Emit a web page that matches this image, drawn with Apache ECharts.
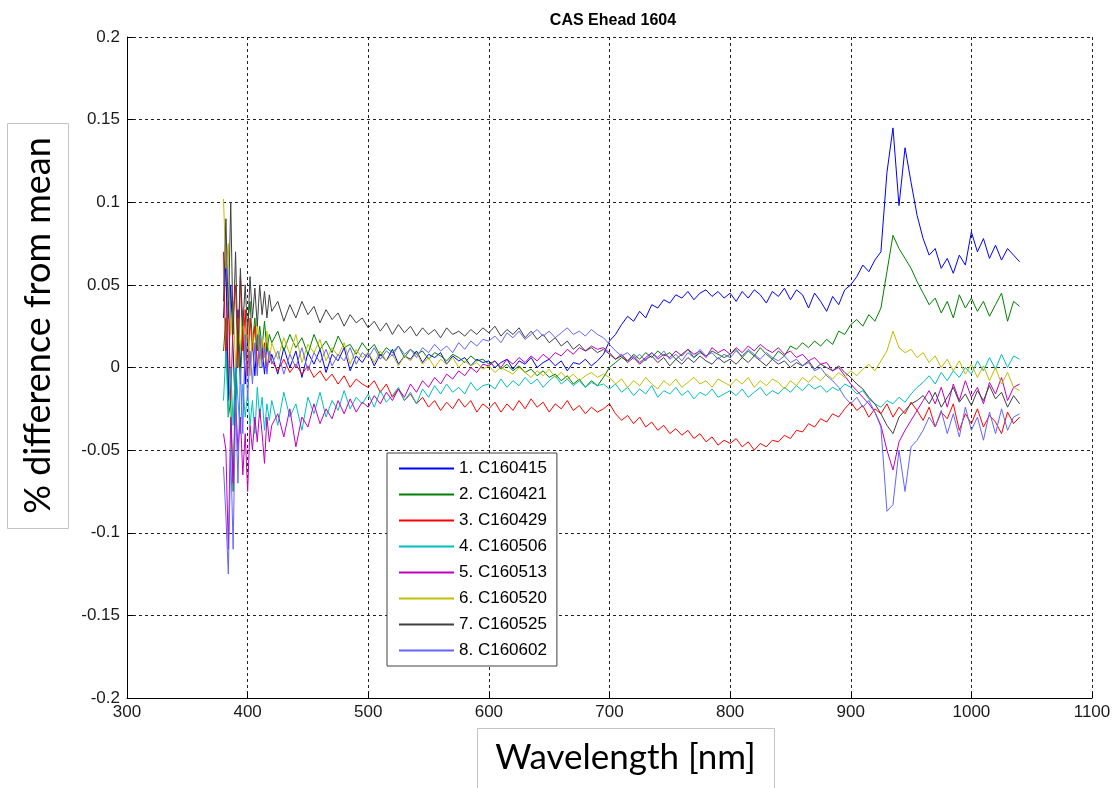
<!DOCTYPE html>
<html>
<head>
<meta charset="utf-8">
<title>CAS Ehead 1604</title>
<script src="https://cdn.jsdelivr.net/npm/echarts@6/dist/echarts.min.js"></script>
<style>
  html, body { margin: 0; padding: 0; background: #fff; }
  #chart { width: 1117px; height: 788px; }
</style>
</head>
<body>
<div id="chart"></div>
<script>
// wavelengths [nm]: 2 nm steps in the noisy blue end, then 5 nm steps
const wavelengths = [
    380, 382, 384, 386, 388, 390, 392, 394, 396, 398, 400, 402, 404, 406, 408, 410, 412, 414, 416, 418,
    420, 425, 430, 435, 440, 445, 450, 455, 460, 465, 470, 475, 480, 485, 490, 495,
    500, 505, 510, 515, 520, 525, 530, 535, 540, 545, 550, 555, 560, 565, 570, 575, 580, 585, 590, 595,
    600, 605, 610, 615, 620, 625, 630, 635, 640, 645, 650, 655, 660, 665, 670, 675, 680, 685, 690, 695,
    700, 705, 710, 715, 720, 725, 730, 735, 740, 745, 750, 755, 760, 765, 770, 775, 780, 785, 790, 795,
    800, 805, 810, 815, 820, 825, 830, 835, 840, 845, 850, 855, 860, 865, 870, 875, 880, 885, 890, 895,
    900, 905, 910, 915, 920, 925, 930, 935, 940, 945, 950, 955, 960, 965, 970, 975, 980, 985, 990, 995,
    1000, 1005, 1010, 1015, 1020, 1025, 1030, 1035, 1040
];

const seriesNames = ['1. C160415', '2. C160421', '3. C160429', '4. C160506', '5. C160513', '6. C160520', '7. C160525', '8. C160602'];
const seriesColors = ['#0000ff', '#008000', '#ff0000', '#00bfbf', '#bf00bf', '#bfbf00', '#404040', '#6464ff'];

const c160415 = [
    0.03, 0.065, -0.02, 0.05, 0.01, -0.03, 0.035, 0.0, 0.025, -0.01, 0.02, 0.0, 0.015, -0.005, 0.02, 0.005, 0.012, -0.004, 0.015, 0.003,
    0.008, -0.004, 0.012, 0.0, 0.01, -0.006, 0.009, 0.002, 0.011, -0.003, 0.008, 0.004, 0.012, -0.002, 0.007, 0.003,
    0.009, 0.001, 0.008, 0.004, 0.011, 0.002, 0.007, 0.005, 0.01, 0.003, 0.008, 0.006, 0.009, 0.002, 0.007, 0.004, 0.006, 0.001, 0.005, 0.003,
    0.004, 0.0, 0.003, 0.005, -0.001, 0.004, 0.002, 0.006, 0.0, 0.003, 0.005, 0.001, 0.004, -0.002, 0.003, 0.002, 0.005, 0.001, 0.004, 0.008,
    0.016, 0.02, 0.026, 0.031, 0.028, 0.034, 0.03, 0.038, 0.036, 0.041, 0.039, 0.044, 0.042, 0.046, 0.041, 0.045, 0.047, 0.043, 0.046, 0.042,
    0.045, 0.04, 0.046, 0.042, 0.047, 0.044, 0.039, 0.046, 0.043, 0.048, 0.041, 0.047, 0.044, 0.036, 0.045, 0.04, 0.034, 0.043, 0.038, 0.047,
    0.05, 0.055, 0.062, 0.058, 0.065, 0.07, 0.118, 0.145, 0.098, 0.133, 0.112, 0.092, 0.078, 0.068, 0.072, 0.06, 0.066, 0.057, 0.068, 0.062,
    0.082, 0.07, 0.078, 0.066, 0.074, 0.065, 0.072, 0.068, 0.064
];
const c160421 = [
    0.01, 0.03, -0.03, -0.02, -0.075, 0.0, 0.02, -0.01, 0.03, 0.005, 0.025, 0.04, 0.015, 0.03, 0.01, 0.025, 0.012, 0.028, 0.01, 0.02,
    0.015, 0.022, 0.01, 0.02, 0.012, 0.018, 0.008, 0.02, 0.011, 0.016, 0.009, 0.019, 0.012, 0.014, 0.008, 0.015,
    0.01, 0.014, 0.007, 0.012, 0.009, 0.013, 0.006, 0.011, 0.008, 0.01, 0.005, 0.009, 0.007, 0.004, 0.008, 0.006, 0.003, 0.007, 0.004, 0.005,
    0.002, 0.004, -0.001, 0.002, -0.002, 0.001, -0.003, -0.001, -0.005, -0.002, -0.006, -0.004, -0.008, -0.005, -0.01, -0.007, -0.012, -0.008, -0.011, -0.006,
    0.0, 0.003, 0.006, 0.004, 0.008, 0.005, 0.009, 0.006, 0.01, 0.007, 0.009, 0.005, 0.008, 0.011, 0.006, 0.009, 0.007, 0.01, 0.008, 0.006,
    0.008, 0.011, 0.006, 0.01, 0.007, 0.012, 0.008, 0.005, 0.01, 0.007, 0.013, 0.011, 0.015, 0.012, 0.016, 0.013, 0.017, 0.014, 0.022, 0.02,
    0.026, 0.029, 0.025, 0.032, 0.028, 0.036, 0.058, 0.08, 0.072, 0.066, 0.06, 0.052, 0.045, 0.038, 0.042, 0.033, 0.04, 0.03, 0.044, 0.036,
    0.042, 0.034, 0.04, 0.031, 0.038, 0.045, 0.028, 0.04, 0.037
];
const c160429 = [
    0.07, 0.0, 0.04, -0.02, 0.03, 0.05, 0.0, 0.055, 0.01, 0.035, -0.005, 0.03, 0.01, 0.025, 0.0, 0.018, 0.005, 0.015, -0.002, 0.01,
    0.004, -0.002, 0.005, -0.003, 0.002, -0.004, 0.001, -0.006, -0.002, -0.008, -0.004, -0.01, -0.005, -0.012, -0.007, -0.01,
    -0.012, -0.008, -0.015, -0.01, -0.018, -0.013, -0.02, -0.016, -0.022, -0.018, -0.024, -0.02, -0.026, -0.021, -0.025, -0.019, -0.024, -0.02, -0.027, -0.022,
    -0.025, -0.021, -0.027, -0.022, -0.026, -0.02, -0.025, -0.019, -0.024, -0.021, -0.027, -0.022, -0.025, -0.02, -0.026, -0.023, -0.028, -0.024, -0.027, -0.025,
    -0.022, -0.028, -0.032, -0.029, -0.034, -0.03, -0.036, -0.033, -0.038, -0.035, -0.04, -0.037, -0.041, -0.038, -0.043, -0.04, -0.045, -0.042, -0.047, -0.044,
    -0.046, -0.043, -0.048, -0.045, -0.05, -0.046, -0.048, -0.044, -0.045, -0.041, -0.043, -0.038, -0.039, -0.034, -0.036, -0.031, -0.033, -0.028, -0.03, -0.025,
    -0.021, -0.026, -0.023, -0.03, -0.025, -0.028, -0.022, -0.03, -0.024, -0.028, -0.021, -0.026, -0.032, -0.024, -0.036, -0.027, -0.031, -0.022, -0.038, -0.028,
    -0.034, -0.025, -0.036, -0.029, -0.033, -0.04, -0.027, -0.034, -0.03
];
const c160506 = [
    -0.02, 0.01, -0.03, 0.0, -0.035, 0.005, -0.02, -0.04, -0.01, -0.03, -0.015, -0.035, -0.02, -0.04, -0.012, -0.03, -0.018, -0.038, -0.022, -0.032,
    -0.02, -0.035, -0.015, -0.03, -0.022, -0.038, -0.018, -0.028, -0.015, -0.03, -0.02, -0.026, -0.014, -0.025, -0.018, -0.022,
    -0.016, -0.024, -0.014, -0.021, -0.017, -0.012, -0.02, -0.015, -0.022, -0.013, -0.018, -0.011, -0.016, -0.01, -0.015, -0.012, -0.016, -0.009, -0.014, -0.011,
    -0.01, -0.013, -0.007, -0.012, -0.008, -0.011, -0.006, -0.01, -0.007, -0.012, -0.008, -0.005, -0.01, -0.007, -0.011, -0.008, -0.012, -0.009, -0.011, -0.01,
    -0.013, -0.01, -0.015, -0.012, -0.017, -0.013, -0.016, -0.011, -0.018, -0.014, -0.016, -0.012, -0.017, -0.014, -0.019, -0.015, -0.017, -0.013, -0.018, -0.016,
    -0.014, -0.017, -0.013, -0.018, -0.015, -0.012, -0.017, -0.014, -0.016, -0.012, -0.015, -0.011, -0.014, -0.01, -0.013, -0.011, -0.015, -0.012, -0.014, -0.01,
    -0.012, -0.016, -0.014, -0.019, -0.022, -0.024, -0.02, -0.022, -0.018, -0.021, -0.016, -0.012, -0.009, -0.005, -0.01, -0.003, -0.008, -0.002, -0.006, 0.0,
    -0.004, 0.004, -0.002, 0.006, -0.001, 0.008, 0.0, 0.007, 0.005
];
const c160513 = [
    -0.04, -0.05, -0.11, -0.03, -0.07, -0.02, -0.05, -0.03, -0.065, -0.04, -0.075, -0.035, -0.05, -0.03, -0.045, -0.025, -0.04, -0.058, -0.03, -0.045,
    -0.035, -0.028, -0.042, -0.025, -0.048, -0.03, -0.036, -0.022, -0.034, -0.025, -0.031, -0.02, -0.028, -0.019, -0.027, -0.021,
    -0.024, -0.017, -0.022, -0.015, -0.02, -0.013, -0.018, -0.01, -0.015, -0.008, -0.012, -0.006, -0.01, -0.004, -0.007, -0.002, -0.005, 0.0, -0.003, 0.002,
    0.001, 0.004, 0.0, 0.005, 0.002, 0.006, 0.003, 0.007, 0.004, 0.008, 0.005, 0.009, 0.007, 0.011, 0.008, 0.012, 0.01, 0.013, 0.011, 0.012,
    0.009, 0.005, 0.008, 0.004, 0.007, 0.003, 0.006, 0.009, 0.005, 0.008, 0.006, 0.01, 0.007, 0.011, 0.008, 0.01, 0.006, 0.012, 0.009, 0.011,
    0.008, 0.012, 0.009, 0.013, 0.01, 0.014, 0.011, 0.009, 0.012, 0.008, 0.01, 0.006, 0.008, 0.004, 0.006, 0.002, 0.003, -0.002, 0.0, -0.005,
    -0.01, -0.014, -0.018, -0.022, -0.027, -0.035, -0.05, -0.062, -0.045, -0.038, -0.032, -0.026, -0.02, -0.014, -0.022, -0.012, -0.024, -0.01, -0.02, -0.008,
    -0.018, -0.012, -0.022, -0.009, -0.016, -0.006, -0.02, -0.012, -0.01
];
const c160520 = [
    0.102, 0.06, 0.075, 0.02, 0.04, 0.0, 0.03, 0.01, 0.035, 0.005, 0.025, -0.005, 0.02, 0.008, 0.028, 0.0, 0.018, 0.006, 0.022, 0.004,
    0.015, 0.005, 0.018, 0.008, 0.02, 0.003, 0.014, 0.009, 0.017, 0.004, 0.012, 0.007, 0.015, 0.002, 0.011, 0.006,
    0.009, 0.003, 0.01, 0.004, 0.008, 0.001, 0.007, 0.004, 0.009, 0.002, 0.006, 0.0, 0.005, 0.002, 0.006, 0.0, 0.004, 0.001, 0.003, -0.001,
    0.001, -0.003, 0.0, -0.002, -0.004, 0.0, -0.003, -0.006, -0.002, -0.005, -0.001, -0.006, -0.003, -0.007, -0.004, -0.008, -0.005, -0.003, -0.006, -0.004,
    -0.006, -0.01, -0.007, -0.012, -0.008, -0.011, -0.006, -0.01, -0.013, -0.008, -0.011, -0.007, -0.012, -0.009, -0.006, -0.01, -0.008, -0.012, -0.007, -0.009,
    -0.011, -0.007, -0.01, -0.006, -0.012, -0.008, -0.011, -0.007, -0.009, -0.013, -0.008, -0.011, -0.006, -0.009, -0.005, -0.008, -0.004, -0.007, -0.003, -0.006,
    -0.002, -0.005, -0.001, 0.002, -0.002, 0.004, 0.01, 0.022, 0.012, 0.009, 0.011, 0.006, 0.009, 0.003, 0.007, 0.0, 0.005, -0.002, 0.004, -0.004,
    0.002, -0.006, 0.001, -0.008, 0.0, -0.01, -0.003, -0.012, -0.014
];
const c160525 = [
    0.04, 0.09, 0.03, 0.1, 0.02, 0.07, 0.01, 0.06, 0.025, 0.05, 0.02, 0.055, 0.03, 0.048, 0.025, 0.05, 0.032, 0.046, 0.03, 0.044,
    0.034, 0.04, 0.028, 0.038, 0.03, 0.04, 0.032, 0.037, 0.027, 0.035, 0.029, 0.033, 0.025, 0.032, 0.027, 0.03,
    0.024, 0.028, 0.022, 0.027, 0.02, 0.026, 0.021, 0.025, 0.019, 0.024, 0.02, 0.023, 0.018, 0.024, 0.02, 0.022, 0.019, 0.023, 0.02, 0.024,
    0.021, 0.025, 0.019, 0.023, 0.02, 0.024, 0.018, 0.022, 0.017, 0.02, 0.015, 0.018, 0.013, 0.016, 0.011, 0.014, 0.01, 0.012, 0.009, 0.011,
    0.008, 0.005, 0.007, 0.003, 0.006, 0.002, 0.005, 0.007, 0.003, 0.006, 0.001, 0.005, 0.002, 0.006, 0.003, 0.007, 0.004, 0.002, 0.006, 0.003,
    0.005, 0.002, 0.006, 0.003, 0.007, 0.004, 0.001, 0.005, 0.002, 0.004, 0.0, 0.003, 0.001, 0.004, -0.001, 0.002, 0.0, -0.002, 0.001, -0.003,
    -0.006, -0.01, -0.013, -0.018, -0.022, -0.028, -0.035, -0.04, -0.03, -0.026, -0.022, -0.02, -0.017, -0.022, -0.015, -0.024, -0.018, -0.012, -0.021, -0.016,
    -0.023, -0.014, -0.02, -0.011, -0.019, -0.015, -0.024, -0.017, -0.022
];
const c160602 = [
    -0.06, -0.09, -0.125, -0.05, -0.11, -0.02, -0.07, 0.0, -0.04, 0.02, -0.02, 0.01, -0.01, 0.015, -0.005, 0.02, 0.0, 0.012, -0.004, 0.01,
    0.002, 0.01, -0.004, 0.008, 0.0, 0.012, -0.002, 0.009, 0.003, 0.011, 0.001, 0.008, 0.004, 0.012, 0.002, 0.009,
    0.006, 0.012, 0.005, 0.01, 0.007, 0.013, 0.008, 0.011, 0.006, 0.012, 0.009, 0.014, 0.01, 0.013, 0.009, 0.015, 0.011, 0.016, 0.013, 0.017,
    0.016, 0.019, 0.015, 0.021, 0.018, 0.022, 0.017, 0.02, 0.023, 0.019, 0.022, 0.018, 0.021, 0.024, 0.02, 0.022, 0.019, 0.023, 0.02, 0.018,
    0.014, 0.01, 0.007, 0.009, 0.005, 0.008, 0.004, 0.009, 0.006, 0.01, 0.005, 0.008, 0.004, 0.009, 0.006, 0.011, 0.007, 0.009, 0.005, 0.008,
    0.006, 0.01, 0.007, 0.011, 0.008, 0.005, 0.009, 0.006, 0.004, 0.007, 0.003, 0.005, 0.001, 0.003, -0.002, 0.0, -0.005, -0.008, -0.012, -0.018,
    -0.022, -0.018, -0.024, -0.02, -0.027, -0.036, -0.087, -0.083, -0.05, -0.075, -0.048, -0.044, -0.038, -0.03, -0.036, -0.026, -0.04, -0.028, -0.042, -0.024,
    -0.038, -0.03, -0.044, -0.027, -0.04, -0.025, -0.038, -0.03, -0.028
];
const seriesValues = [c160415, c160421, c160429, c160506, c160513, c160520, c160525, c160602];

const xTickMin = 300, xTickMax = 1100, xTickStep = 100;
const yTickMin = -0.2, yTickMax = 0.2, yTickStep = 0.05;

const TICK_FONT = { fontFamily: '"Liberation Sans", Arial, sans-serif', fontSize: 17, color: '#1a1a1a' };
const BIG_FONT = 'Lato, "Open Sans", sans-serif';

function buildSeries() {
    return seriesNames.map(function (name, i) {
        return {
            name: name,
            type: 'line',
            symbol: 'none',
            lineStyle: { width: 1, color: seriesColors[i] },
            itemStyle: { color: seriesColors[i] },
            data: wavelengths.map(function (w, k) { return [w, seriesValues[i][k]]; })
        };
    });
}

function buildOption() {
    return {
        animation: false,
        backgroundColor: '#fff',
        title: {
            text: 'CAS Ehead 1604',
            left: 608, top: 8, textAlign: 'center',
            textStyle: { fontFamily: '"Liberation Sans", Arial, sans-serif', fontWeight: 'bold', fontSize: 16, color: '#000' }
        },
        grid: { left: 127, right: 25, top: 37, bottom: 90, containLabel: false },
        xAxis: {
            type: 'value', min: xTickMin, max: xTickMax, interval: xTickStep,
            axisLine: { onZero: false, lineStyle: { color: '#000', width: 1 } },
            axisTick: { inside: true, length: 6, lineStyle: { color: '#000' } },
            axisLabel: Object.assign({
                margin: 6,
                formatter: function (v) { return String(v); }
            }, TICK_FONT),
            splitLine: { show: true, lineStyle: { color: '#222', type: [3, 3], width: 1 } }
        },
        yAxis: {
            type: 'value', min: yTickMin, max: yTickMax, interval: yTickStep,
            axisLine: { show: true, onZero: false, lineStyle: { color: '#000', width: 1 } },
            axisTick: { show: true, inside: true, length: 6, lineStyle: { color: '#000' } },
            axisLabel: Object.assign({
                margin: 7,
                formatter: function (v) { return String(+v.toFixed(2)); }
            }, TICK_FONT),
            splitLine: { show: true, lineStyle: { color: '#222', type: [3, 3], width: 1 } }
        },
        legend: {
            orient: 'vertical',
            left: 387, top: 453,
            data: seriesNames,
            itemWidth: 55, itemHeight: 17, itemGap: 9,
            itemStyle: { opacity: 0 },
            padding: [7, 10, 7, 11],
            borderColor: '#404040', borderWidth: 1,
            backgroundColor: '#fff',
            selectedMode: false,
            textStyle: { fontFamily: '"Liberation Sans", Arial, sans-serif', fontSize: 17, color: '#000', lineHeight: 17 }
        },
        graphic: [
            {
                type: 'group', left: 7, top: 123,
                children: [
                    { type: 'rect', shape: { x: 0, y: 0, width: 61, height: 405 }, style: { fill: '#fff', stroke: '#c4c4c4', lineWidth: 1 } },
                    {
                        type: 'text', x: 31, y: 202, rotation: Math.PI / 2,
                        style: { text: '% difference from mean', font: '36px ' + BIG_FONT, fill: '#000', align: 'center', verticalAlign: 'middle' }
                    }
                ]
            },
            {
                type: 'group', left: 477, top: 728,
                children: [
                    { type: 'rect', shape: { x: 0, y: 0, width: 297, height: 70 }, style: { fill: '#fff', stroke: '#c4c4c4', lineWidth: 1 } },
                    {
                        type: 'text', x: 148, y: 29,
                        style: { text: 'Wavelength [nm]', font: '35px ' + BIG_FONT, fill: '#000', align: 'center', verticalAlign: 'middle' }
                    }
                ]
            }
        ],
        series: buildSeries()
    };
}

const chart = echarts.init(document.getElementById('chart'));
chart.setOption(buildOption());
</script>
</body>
</html>
